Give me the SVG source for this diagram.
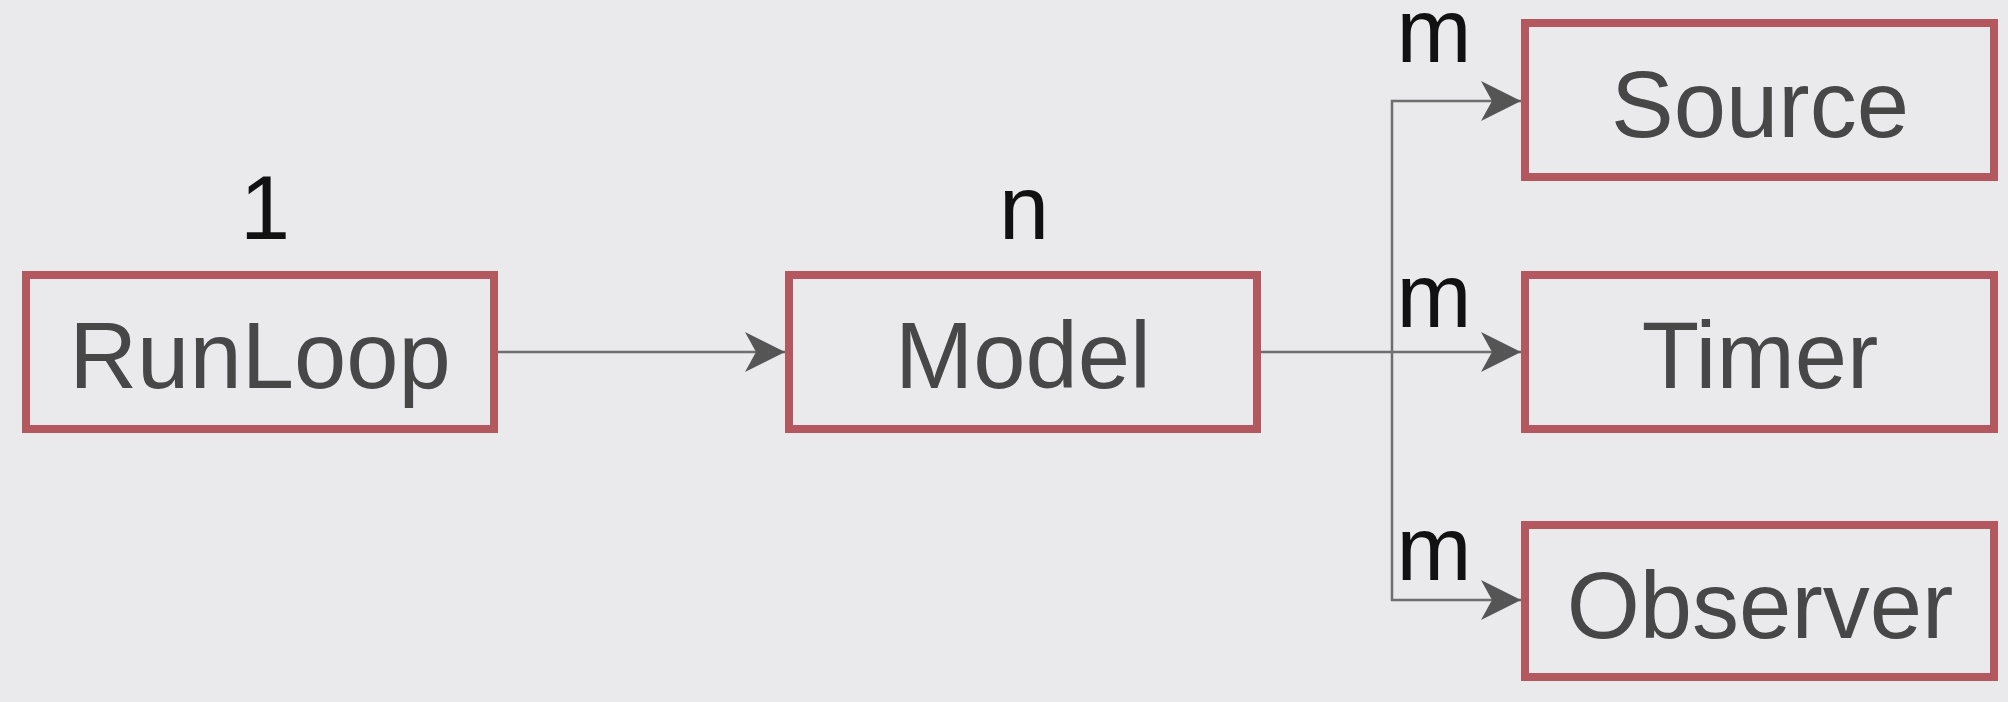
<svg xmlns="http://www.w3.org/2000/svg" width="2008" height="702" viewBox="0 0 2008 702">
  <style>
    .box { fill: none; stroke: #b3585e; stroke-width: 8; }
    .name { font-family: "Liberation Sans", Arial, sans-serif; font-size: 94px; fill: #474747; text-anchor: middle; }
    .card { font-family: "Liberation Sans", Arial, sans-serif; font-size: 90px; fill: #111; text-anchor: middle; }
    .conn { fill: none; stroke: #6e6e6e; stroke-width: 2.5; }
  </style>
  <defs>
    <marker id="arrow" markerUnits="userSpaceOnUse" markerWidth="42" markerHeight="42" refX="40" refY="20" orient="auto" viewBox="0 0 42 42">
      <path d="M0,0 L40,20 L0,40 L11,20 Z" fill="#555"/>
    </marker>
  </defs>
  <rect width="2008" height="702" fill="#eaeaec"/>

  <g id="connectors">
    <line class="conn" x1="498" y1="352" x2="785" y2="352" marker-end="url(#arrow)"/>
    <line class="conn" x1="1261" y1="352" x2="1521" y2="352" marker-end="url(#arrow)"/>
    <path class="conn" d="M1392,352 L1392,101 L1521,101" marker-end="url(#arrow)"/>
    <path class="conn" d="M1392,352 L1392,600 L1521,600" marker-end="url(#arrow)"/>
  </g>

  <g id="runloop">
    <rect class="box" x="26" y="275" width="468" height="154"/>
    <text class="name" x="260" y="388">RunLoop</text>
    <text class="card" x="265" y="239">1</text>
  </g>

  <g id="model">
    <rect class="box" x="789" y="275" width="468" height="154"/>
    <text class="name" x="1023" y="388">Model</text>
    <text class="card" x="1024" y="239">n</text>
  </g>

  <g id="source">
    <rect class="box" x="1525" y="23" width="469" height="154"/>
    <text class="name" x="1760" y="137">Source</text>
    <text class="card" x="1434" y="62">m</text>
  </g>

  <g id="timer">
    <rect class="box" x="1525" y="275" width="469" height="154"/>
    <text class="name" x="1760" y="388">Timer</text>
    <text class="card" x="1434" y="327">m</text>
  </g>

  <g id="observer">
    <rect class="box" x="1525" y="525" width="469" height="152"/>
    <text class="name" x="1760" y="638">Observer</text>
    <text class="card" x="1434" y="580">m</text>
  </g>
</svg>
